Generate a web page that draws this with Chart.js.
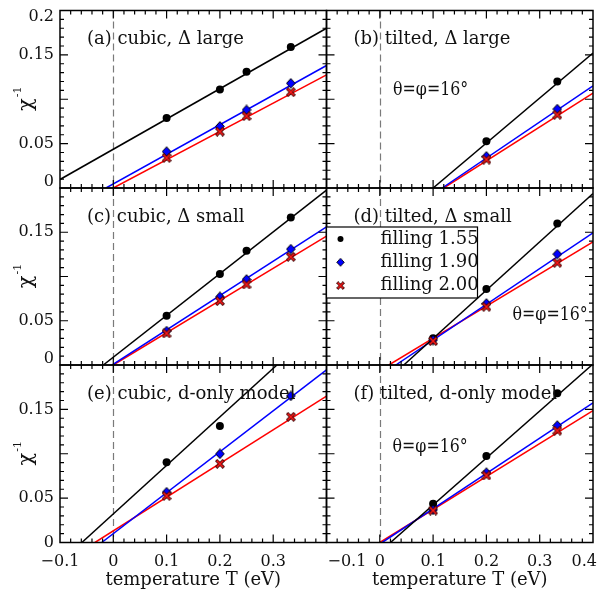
<!DOCTYPE html>
<html>
<head>
<meta charset="utf-8">
<script src="https://cdn.jsdelivr.net/npm/chart.js@4/dist/chart.umd.min.js"></script>
<style>
  html, body { margin: 0; padding: 0; background: #fff; }
  #wrap { position: relative; width: 600px; height: 593px; overflow: hidden; }
  #wrap canvas { position: absolute; left: 0; top: 0; }
</style>
</head>
<body>
<div id="wrap"></div>
<script>
// ---- series names and tick labels ----
const seriesNames = ['filling 1.55', 'filling 1.90', 'filling 2.00'];
const xTickValues = [-0.1, 0, 0.1, 0.2, 0.3, 0.4];
const yTickValues = [0, 0.05, 0.1, 0.15, 0.2];
const yLabelValues = [0, 0.05, 0.15, 0.2];

// ---- (a) cubic, Δ large ----
const tempsA = [0.1, 0.2, 0.25, 0.333];
const chiA_155 = [0.079, 0.111, 0.131, 0.159];
const chiA_190 = [0.041, 0.0695, 0.088, 0.118];
const chiA_200 = [0.034, 0.0635, 0.081, 0.108];
const fitA_155 = [[-0.1, 0.0096], [0.4, 0.180]];
const fitA_190 = [[-0.0137, 0], [0.4, 0.138]];
const fitA_200 = [[0, 0], [0.4, 0.1275]];

// ---- (b) tilted, Δ large ----
const tempsB = [0.2, 0.333];
const chiB_155 = [0.0526, 0.120];
const chiB_190 = [0.0357, 0.089];
const chiB_200 = [0.032, 0.0826];
const fitB_155 = [[0.1, 0], [0.4, 0.152]];
const fitB_190 = [[0.117, 0], [0.4, 0.1152]];
const fitB_200 = [[0.12, 0], [0.4, 0.107]];

// ---- (c) cubic, Δ small ----
const tempsC = [0.1, 0.2, 0.25, 0.333];
const chiC_155 = [0.0556, 0.1027, 0.129, 0.1667];
const chiC_190 = [0.0384, 0.0771, 0.0967, 0.131];
const chiC_200 = [0.0357, 0.0722, 0.091, 0.1222];
const fitC_155 = [[-0.0188, 0], [0.4, 0.1975]];
const fitC_190 = [[-0.002, 0], [0.4, 0.156]];
const fitC_200 = [[0, 0], [0.4, 0.1456]];

// ---- (d) tilted, Δ small ----
const tempsD = [0.1, 0.2, 0.333];
const chiD_155 = [0.0301, 0.0858, 0.160];
const chiD_190 = [0.0282, 0.0696, 0.1253];
const chiD_200 = [0.027, 0.0658, 0.1155];
const fitD_155 = [[0.045, 0], [0.4, 0.1938]];
const fitD_190 = [[0.03, 0], [0.4, 0.1493]];
const fitD_200 = [[0.017, 0], [0.4, 0.139]];

// ---- (e) cubic, d-only model ----
const tempsE = [0.1, 0.2, 0.333];
const chiE_155 = [0.0905, 0.1314];
const chiE_190 = [0.0567, 0.0999, 0.1652];
const chiE_200 = [0.0526, 0.0886, 0.1416];
const fitE_155 = [[-0.059, 0], [0.307, 0.2]];
const fitE_190 = [[-0.0218, 0], [0.4, 0.1945]];
const fitE_200 = [[-0.0344, 0], [0.4, 0.165]];

// ---- (f) tilted, d-only model ----
const tempsF = [0.1, 0.2, 0.333];
const chiF_155 = [0.0436, 0.0976, 0.1682];
const chiF_190 = [0.0368, 0.0788, 0.1318];
const chiF_200 = [0.036, 0.0755, 0.126];
const fitF_155 = [[0.02, 0], [0.398, 0.2]];
const fitF_190 = [[0.0045, 0], [0.4, 0.1574]];
const fitF_200 = [[0, 0], [0.4, 0.1486]];

// ---- page geometry ----
const W = 600, H = 593;
const COLS = [[60, 326.5], [326.5, 593]];
const ROWS = [[10.5, 188], [188, 365], [365, 542.5]];
const FONT = '"DejaVu Serif", "Liberation Serif", serif';
const COLORS = ['#000000', '#0000ff', '#ff0000'];

// marker images
function makeDiamond() {
  const c = document.createElement('canvas');
  c.width = 10; c.height = 11;
  const g = c.getContext('2d');
  g.beginPath();
  g.moveTo(5, 0.7); g.lineTo(9.3, 5.5); g.lineTo(5, 10.3); g.lineTo(0.7, 5.5); g.closePath();
  g.fillStyle = '#0000ff'; g.fill();
  g.lineWidth = 1; g.strokeStyle = '#000'; g.stroke();
  return c;
}
function makeCross() {
  const c = document.createElement('canvas');
  c.width = 10; c.height = 10;
  const g = c.getContext('2d');
  const draw = () => { g.beginPath(); g.moveTo(2.3, 2.3); g.lineTo(7.7, 7.7); g.moveTo(7.7, 2.3); g.lineTo(2.3, 7.7); g.stroke(); };
  g.lineCap = 'square';
  g.strokeStyle = '#400000'; g.lineWidth = 3.2; draw();
  g.strokeStyle = '#ff1a1a'; g.lineWidth = 1.5; draw();
  return c;
}
const diamondImg = makeDiamond();
const crossImg = makeCross();

const pts = (temps, vals) => vals.map((v, i) => ({ x: temps[i], y: v }));
const seg = (pair) => pair.map(([x, y]) => ({ x, y }));

const panels = [
  { title: '(a) cubic, \u0394 large', col: 0, row: 0, temps: tempsA, chi: [chiA_155, chiA_190, chiA_200], fit: [fitA_155, fitA_190, fitA_200] },
  { title: '(b) tilted, \u0394 large', col: 1, row: 0, temps: tempsB, chi: [chiB_155, chiB_190, chiB_200], fit: [fitB_155, fitB_190, fitB_200], angle: [393, 90] },
  { title: '(c) cubic, \u0394 small', col: 0, row: 1, temps: tempsC, chi: [chiC_155, chiC_190, chiC_200], fit: [fitC_155, fitC_190, fitC_200] },
  { title: '(d) tilted, \u0394 small', col: 1, row: 1, temps: tempsD, chi: [chiD_155, chiD_190, chiD_200], fit: [fitD_155, fitD_190, fitD_200], angle: [512.5, 315], legend: true },
  { title: '(e) cubic, d-only model', col: 0, row: 2, temps: tempsE, chi: [chiE_155, chiE_190, chiE_200], fit: [fitE_155, fitE_190, fitE_200] },
  { title: '(f) tilted, d-only model', col: 1, row: 2, temps: tempsF, chi: [chiF_155, chiF_190, chiF_200], fit: [fitF_155, fitF_190, fitF_200], angle: [392.5, 447] }
];

const fmt = (v) => (v < 0 ? '\u2212' : '') + String(Math.round(Math.abs(v) * 1000) / 1000);

// frame, inward ticks, labels and annotations of one panel
const panelDecor = {
  id: 'panelDecor',
  beforeDatasetsDraw(chart, args, o) {
    const { ctx, chartArea: a, scales: { x } } = chart;
    const px = Math.round(x.getPixelForValue(0)) + 0.5;
    ctx.save();
    ctx.strokeStyle = '#7a7a7a';
    ctx.lineWidth = 1.2;
    ctx.setLineDash([7, 4]);
    ctx.beginPath();
    ctx.moveTo(px, a.top);
    ctx.lineTo(px, a.bottom);
    ctx.stroke();
    ctx.restore();
  },
  afterDatasetsDraw(chart, args, o) {
    const { ctx, chartArea: a, scales: { x, y } } = chart;
    const p = o.panel;
    ctx.save();
    // frame
    ctx.strokeStyle = '#000';
    ctx.lineWidth = 1.5;
    ctx.strokeRect(a.left, a.top, a.right - a.left, a.bottom - a.top);
    // x ticks (major every 0.1, minor every 0.02)
    ctx.lineWidth = 1.2;
    ctx.beginPath();
    for (let k = -5; k <= 20; k++) {
      const v = k * 0.02;
      const major = k % 5 === 0;
      const len = major ? 8 : 4;
      const xp = x.getPixelForValue(v);
      if (xp < a.left + 0.5 || xp > a.right - 0.5) continue;
      ctx.moveTo(xp, a.bottom); ctx.lineTo(xp, a.bottom - len);
      ctx.moveTo(xp, a.top); ctx.lineTo(xp, a.top + len);
    }
    // y ticks (major every 0.05, minor every 0.01)
    for (let k = 0; k <= 20; k++) {
      const v = k * 0.01;
      const major = k % 5 === 0;
      const len = major ? 8 : 4;
      const yp = y.getPixelForValue(v);
      if (yp < a.top + 0.5 || yp > a.bottom - 0.5) continue;
      ctx.moveTo(a.left, yp); ctx.lineTo(a.left + len, yp);
      ctx.moveTo(a.right, yp); ctx.lineTo(a.right - len, yp);
    }
    ctx.stroke();

    ctx.fillStyle = '#111';
    ctx.textBaseline = 'middle';

    // y tick labels on the left column
    if (p.col === 0) {
      ctx.font = '16px ' + FONT;
      ctx.textAlign = 'right';
      yLabelValues.forEach((v) => {
        if (v === 0.2 && p.row !== 0) return;
        let yp = y.getPixelForValue(v);
        if (v === 0.2) yp += 6.5;
        if (v === 0 && p.row !== 2) yp -= 6.5;
        ctx.fillText(String(v), a.left - 6, yp);
      });
      // axis title χ⁻¹
      ctx.save();
      ctx.translate(27, (a.top + a.bottom) / 2);
      ctx.rotate(-Math.PI / 2);
      ctx.font = '21px ' + FONT;
      const wChi = ctx.measureText('\u03c7').width;
      ctx.font = '11px ' + FONT;
      const wSup = ctx.measureText('-1').width;
      const x0 = -(wChi + wSup) / 2;
      ctx.textAlign = 'left';
      ctx.font = '21px ' + FONT;
      ctx.fillText('\u03c7', x0, 0);
      ctx.font = '11px ' + FONT;
      ctx.fillText('-1', x0 + wChi + 1, -9);
      ctx.restore();
    }

    // x tick labels and axis title on the bottom row
    if (p.row === 2) {
      ctx.font = '16px ' + FONT;
      xTickValues.forEach((v) => {
        if (p.col === 0 && v === 0.4) return;
        let xp = x.getPixelForValue(v);
        ctx.textAlign = 'center';
        if (p.col === 1 && v === -0.1) { ctx.textAlign = 'left'; xp = a.left + 1; }
        if (p.col === 1 && v === 0.4) { ctx.textAlign = 'right'; xp = a.right + 4; }
        ctx.fillText(fmt(v), xp, 562);
      });
      ctx.font = '18px ' + FONT;
      ctx.textAlign = 'center';
      ctx.fillText('temperature T (eV)', (a.left + a.right) / 2, 580);
    }

    // panel title
    ctx.font = '18px ' + FONT;
    ctx.textAlign = 'left';
    ctx.fillText(p.title, a.left + 27, a.top + 29);

    // rotation angles
    if (p.angle) {
      ctx.save();
      ctx.beginPath();
      ctx.rect(a.left, a.top, a.right - a.left, a.bottom - a.top);
      ctx.clip();
      ctx.translate(p.angle[0], p.angle[1]);
      ctx.scale(0.88, 1);
      ctx.font = '18px ' + FONT;
      ctx.fillText('\u03b8=\u03c6=16\u00b0', 0, 0);
      ctx.restore();
    }

    // legend box
    if (p.legend) {
      const bx = a.left, by = 227, bw = 151, bh = 71;
      ctx.fillStyle = '#fff';
      ctx.fillRect(bx, by, bw, bh);
      ctx.strokeStyle = '#000';
      ctx.lineWidth = 1.2;
      ctx.strokeRect(bx, by, bw, bh);
      const markers = chart.data.datasets.filter((d) => d.isMarker);
      markers.sort((m1, m2) => m1.series - m2.series);
      markers.forEach((d, i) => {
        const cy = by + 12 + i * 23.3;
        const cx = bx + 14;
        if (d.pointStyle === 'circle') {
          ctx.fillStyle = '#000';
          ctx.beginPath(); ctx.arc(cx, cy, 3, 0, Math.PI * 2); ctx.fill();
        } else {
          const img = d.pointStyle;
          const s = 0.85;
          ctx.drawImage(img, cx - img.width * s / 2, cy - img.height * s / 2, img.width * s, img.height * s);
        }
        ctx.fillStyle = '#111';
        ctx.font = '18px ' + FONT;
        ctx.textAlign = 'left';
        ctx.fillText(d.label, bx + 54, cy);
      });
    }
    ctx.restore();
  }
};

const wrap = document.getElementById('wrap');
panels.forEach((p) => {
  const cv = document.createElement('canvas');
  cv.width = W; cv.height = H;
  wrap.appendChild(cv);
  const [l, r] = COLS[p.col];
  const [t, b] = ROWS[p.row];

  const datasets = [];
  p.fit.forEach((f, i) => {
    datasets.push({
      label: seriesNames[i] + ' fit',
      data: seg(f),
      showLine: true,
      borderColor: COLORS[i],
      borderWidth: 1.5,
      pointRadius: 0,
      order: 10 + i
    });
  });
  const styles = ['circle', diamondImg, crossImg];
  p.chi.forEach((vals, i) => {
    datasets.push({
      label: seriesNames[i],
      isMarker: true,
      series: i,
      data: pts(p.temps, vals),
      showLine: false,
      pointStyle: styles[i],
      pointRadius: i === 0 ? 4 : 5,
      backgroundColor: COLORS[i],
      borderColor: '#000',
      borderWidth: i === 0 ? 0 : 1,
      order: 3 - i
    });
  });

  new Chart(cv, {
    type: 'scatter',
    data: { datasets },
    options: {
      responsive: false,
      animation: false,
      devicePixelRatio: 1,
      layout: { padding: { left: l, right: W - r, top: t, bottom: H - b } },
      scales: {
        x: { type: 'linear', min: -0.1, max: 0.4, display: false },
        y: { type: 'linear', min: 0, max: 0.2, display: false }
      },
      plugins: {
        legend: { display: false },
        tooltip: { enabled: false },
        panelDecor: { panel: p }
      },
      events: []
    },
    plugins: [panelDecor]
  });
});
</script>
</body>
</html>
